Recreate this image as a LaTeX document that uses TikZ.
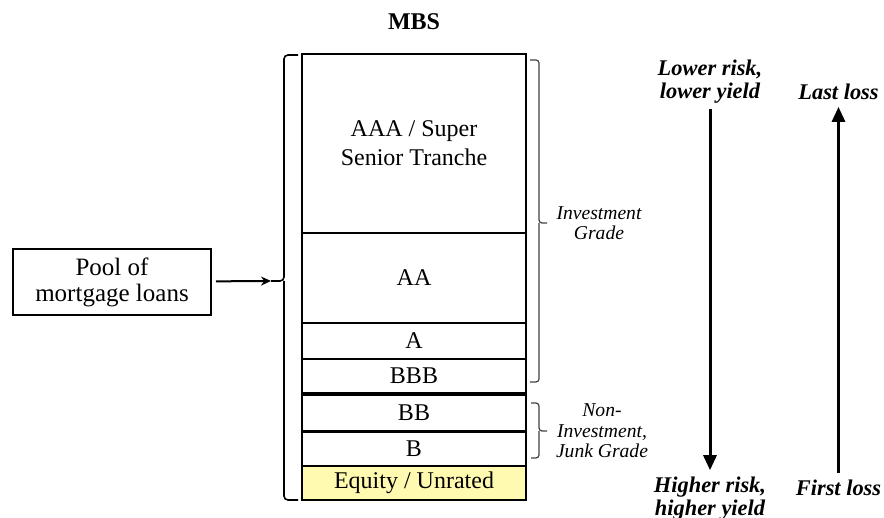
\documentclass[tikz,border=0pt]{standalone}
\usepackage{fontspec}
\setmainfont{Liberation Serif}
\usetikzlibrary{arrows.meta}
\definecolor{equityyellow}{RGB}{255,250,175}

\begin{document}
\begin{tikzpicture}[x=0.5pt, y=-0.5pt, line width=1pt,
    tranche/.style={draw, minimum width=112pt, inner sep=0pt, align=center, font=\fontsize{12}{14.5}\selectfont},
    gradelab/.style={align=center, inner sep=0pt, font=\fontsize{9.8}{10.3}\selectfont\itshape},
    risklab/.style={align=center, inner sep=0pt, font=\fontsize{11.2}{11.6}\selectfont\bfseries\itshape},
    bigarrow/.style={line width=1.5pt, -{Triangle[width=6.5pt,length=7.5pt]}},
    gradebrace/.style={rounded corners=1.5pt, line width=0.6pt, draw=black!75}]
			\useasboundingbox (0,0) rectangle (884,518);
			% the MBS stack
			\node[font=\fontsize{12}{14}\selectfont\bfseries] (mbs) at (414,22) {MBS};
			\node[tranche, minimum height=89.5pt] (aaa) at (414,143.5) {AAA / Super\\Senior Tranche};
			\node[tranche, minimum height=45pt] (aa) at (414,278) {AA};
			\node[tranche, minimum height=18pt] (a) at (414,341) {A};
			\node[tranche, minimum height=17pt] (bbb) at (414,376) {BBB};
			\node[tranche, minimum height=18pt] (bb) at (414,413) {BB};
			\node[tranche, minimum height=17pt] (b) at (414,448.5) {B};
			\node[tranche, minimum height=17pt, fill=equityyellow] (equity) at (414,483) {Equity / Unrated};
			% pool feeding the stack
			\node[draw, minimum width=99pt, minimum height=33pt, inner sep=0pt, align=center,
			      font=\fontsize{12.5}{13}\selectfont] (pool) at (112,282) {Pool of\\mortgage loans};
			\coordinate (feed) at (271,281);
			\draw[line width=0.8pt, rounded corners=2pt] (298,55) -- (284,55) -- (284,281) -- (feed);
			\draw[line width=0.8pt, rounded corners=2pt] (298,500) -- (284,500) -- (284,281);
			\draw[-{Stealth[width=4.5pt,length=5pt]}, shorten <=2pt] (pool) -- (feed);
			% grade brackets
			\draw[gradebrace] (530,60) -- (539,60) -- (539,223) -- (547,223);
			\draw[gradebrace] (530,382) -- (539,382) -- (539,223);
			\node[gradelab] (invgrade) at (599,223) {Investment\\Grade};
			\draw[gradebrace] (531,403) -- (539,403) -- (539,431) -- (547,431);
			\draw[gradebrace] (531,458) -- (539,458) -- (539,431);
			\node[gradelab] (junk) at (602,431) {Non-\\Investment,\\Junk Grade};
			% risk and loss arrows
			\node[risklab] (lower) at (710,82) {Lower risk,\\lower yield};
			\node[risklab] (higher) at (710,499) {Higher risk,\\higher yield};
			\node[risklab] (last) at (838.5,92) {Last loss};
			\node[risklab] (first) at (838.5,488) {First loss};
			\draw[bigarrow] ([yshift=-2pt]lower.south) -- ([yshift=3pt]higher.north);
			\draw[bigarrow] ([yshift=3pt]first.north) -- ([yshift=-3pt]last.south);
\end{tikzpicture}
\end{document}
